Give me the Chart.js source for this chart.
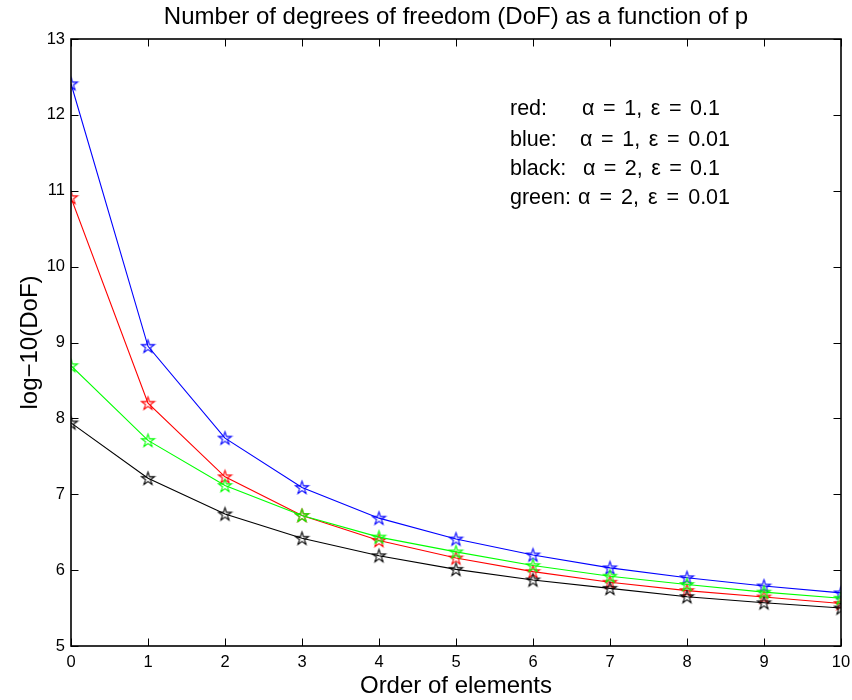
<!DOCTYPE html>
<html>
<head>
<meta charset="utf-8">
<script src="https://cdn.jsdelivr.net/npm/chart.js@4.4.1/dist/chart.umd.min.js"></script>
<style>
  html, body { margin: 0; padding: 0; background: #ffffff; }
  #wrap { width: 852px; height: 700px; }
</style>
</head>
<body>
<div id="wrap"><canvas id="c" width="852" height="700"></canvas></div>
<script>
// ---- data ----
const orders = [0, 1, 2, 3, 4, 5, 6, 7, 8, 9, 10];
const redSeries   = [10.91, 8.20, 7.23, 6.72, 6.39, 6.16, 5.98, 5.84, 5.73, 5.645, 5.56];
const blueSeries  = [12.41, 8.95, 7.74, 7.09, 6.685, 6.41, 6.20, 6.03, 5.90, 5.79, 5.70];
const blackSeries = [7.94, 7.21, 6.74, 6.42, 6.19, 6.01, 5.87, 5.76, 5.65, 5.57, 5.50];
const greenSeries = [8.695, 7.71, 7.115, 6.72, 6.435, 6.24, 6.06, 5.92, 5.81, 5.71, 5.63];
const xTickValues = [0, 1, 2, 3, 4, 5, 6, 7, 8, 9, 10];
const yTickValues = [5, 6, 7, 8, 9, 10, 11, 12, 13];
const titleText = 'Number of degrees of freedom (DoF) as a function of p';
const xLabelText = 'Order of elements';
const yLabelText = 'log\u221210(DoF)';
const noteLabels = ['red:', 'blue:', 'black:', 'green:'];
const noteFormulas = ['\u03B1 = 1, \u03B5 = 0.1', '\u03B1 = 1, \u03B5 = 0.01', '\u03B1 = 2, \u03B5 = 0.1', '\u03B1 = 2, \u03B5 = 0.01'];

const FONT = '"Liberation Sans", Arial, Helvetica, sans-serif';

function starCanvas(color) {
  const s = 17, c = document.createElement('canvas');
  c.width = s; c.height = s;
  const g = c.getContext('2d');
  const cx = s / 2, cy = s / 2 + 0.5, R = 6.8, r = R * 0.382;
  g.beginPath();
  for (let k = 0; k < 10; k++) {
    const rad = (k % 2 === 0) ? R : r;
    const a = -Math.PI / 2 + k * Math.PI / 5;
    const px = cx + rad * Math.cos(a), py = cy + rad * Math.sin(a);
    if (k === 0) g.moveTo(px, py); else g.lineTo(px, py);
  }
  g.closePath();
  g.strokeStyle = color; g.lineWidth = 1.1;
  g.stroke();
  return c;
}

function makeSet(label, values, color, order) {
  return {
    label: label,
    data: orders.map((o, i) => ({ x: o, y: values[i] })),
    borderColor: color,
    backgroundColor: color,
    borderWidth: 1.1,
    tension: 0,
    pointStyle: starCanvas(color),
    pointRadius: 7,
    pointHoverRadius: 7,
    order: order
  };
}

function spacedText(ctx, text, x, y, targetWidth) {
  const spaces = text.split(' ').length - 1;
  if ('wordSpacing' in ctx) ctx.wordSpacing = '0px';
  const w = ctx.measureText(text).width;
  const sp = Math.max(0, (targetWidth - w) / Math.max(1, spaces));
  if ('wordSpacing' in ctx) {
    ctx.wordSpacing = sp.toFixed(2) + 'px';
    ctx.fillText(text, x, y);
    ctx.wordSpacing = '0px';
  } else {
    ctx.fillText(text, x, y);
  }
}

const framePlugin = {
  id: 'frame',
  afterDraw(chart) {
    const ctx = chart.ctx;
    const a = chart.chartArea;
    const xs = chart.scales.x, ys = chart.scales.y;
    ctx.save();
    // box
    ctx.strokeStyle = '#000'; ctx.lineWidth = 1.6;
    ctx.strokeRect(a.left, a.top, a.right - a.left, a.bottom - a.top);
    // inward ticks
    ctx.lineWidth = 1;
    const tl = 7.5;
    ctx.beginPath();
    xTickValues.forEach(v => {
      const px = Math.round(xs.getPixelForValue(v)) + 0.5;
      ctx.moveTo(px, a.bottom); ctx.lineTo(px, a.bottom - tl);
      ctx.moveTo(px, a.top); ctx.lineTo(px, a.top + tl);
    });
    yTickValues.forEach(v => {
      const py = Math.round(ys.getPixelForValue(v)) + 0.5;
      ctx.moveTo(a.left, py); ctx.lineTo(a.left + tl, py);
      ctx.moveTo(a.right, py); ctx.lineTo(a.right - tl, py);
    });
    ctx.stroke();
    // title
    ctx.fillStyle = '#000';
    ctx.textAlign = 'center'; ctx.textBaseline = 'alphabetic';
    ctx.font = '24px ' + FONT;
    ctx.fillText(titleText, (a.left + a.right) / 2, 24);
    // x label
    ctx.font = '24px ' + FONT;
    ctx.fillText(xLabelText, (a.left + a.right) / 2, 693);
    // y label
    ctx.save();
    ctx.translate(37, (a.top + a.bottom) / 2);
    ctx.rotate(-Math.PI / 2);
    ctx.fillText(yLabelText, 0, 0);
    ctx.restore();
    // annotation text
    ctx.textAlign = 'left';
    ctx.font = '21.5px ' + FONT;
    const baseY = [115, 146, 175, 204];
    const fx = [582, 580, 583, 578];
    const fEnd = [720, 730, 720, 730];
    for (let i = 0; i < 4; i++) {
      ctx.fillText(noteLabels[i], 510, baseY[i]);
      spacedText(ctx, noteFormulas[i], fx[i], baseY[i], fEnd[i] - fx[i]);
    }
    ctx.restore();
  }
};

new Chart(document.getElementById('c'), {
  type: 'line',
  data: {
    datasets: [
      makeSet('red', redSeries, '#ff0000', 3),
      makeSet('blue', blueSeries, '#0000ff', 2),
      makeSet('black', blackSeries, '#000000', 1),
      makeSet('green', greenSeries, '#00ff00', 0)
    ]
  },
  options: {
    responsive: false,
    animation: false,
    layout: { padding: { left: 0, right: 11, top: 39, bottom: 0 } },
    plugins: { legend: { display: false }, title: { display: false }, tooltip: { enabled: false } },
    scales: {
      x: {
        type: 'linear', min: 0, max: 10,
        grid: { display: false, drawTicks: false },
        border: { display: false },
        afterBuildTicks(s) { s.ticks = xTickValues.map(v => ({ value: v })); },
        afterFit(s) { s.height = 54; s.paddingLeft = 0; s.paddingRight = 0; },
        ticks: { padding: 7, color: '#000', font: { family: FONT, size: 16.5 }, maxRotation: 0, autoSkip: false }
      },
      y: {
        type: 'linear', min: 5, max: 13,
        grid: { display: false, drawTicks: false },
        border: { display: false },
        afterBuildTicks(s) { s.ticks = yTickValues.map(v => ({ value: v })); },
        afterFit(s) { s.width = 71; s.paddingTop = 0; s.paddingBottom = 0; },
        ticks: { padding: 6, color: '#000', font: { family: FONT, size: 16.5 }, autoSkip: false }
      }
    }
  },
  plugins: [framePlugin]
});
</script>
</body>
</html>
